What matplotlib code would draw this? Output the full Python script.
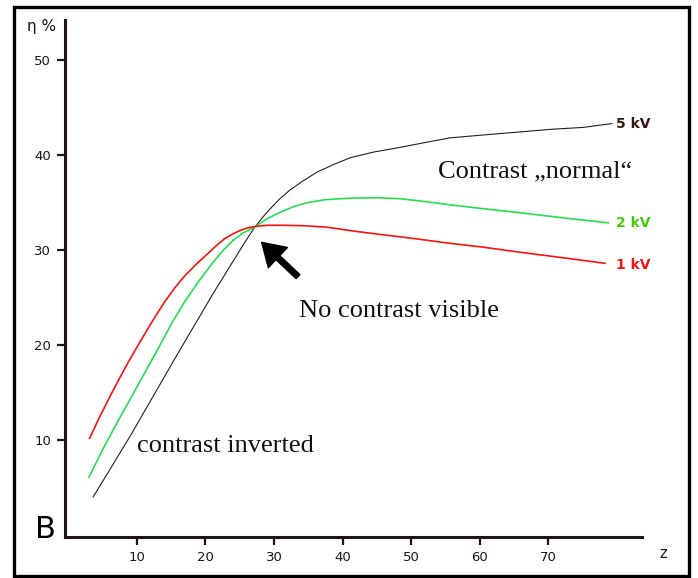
import matplotlib
matplotlib.use("Agg")
import matplotlib.pyplot as plt
from matplotlib.patches import Rectangle

# ---- data ----
z_5kv = [3.6, 9.0, 15.8, 21.1, 24.1, 26.0, 27.2, 28.3,
         29.4, 30.8, 32.3, 34.3, 36.3, 38.7, 41.1, 44.5, 48.4, 52.0, 55.7,
         60.5, 65.5, 70.5, 75.1, 79.3]
eta_5kv = [4.0, 10.4, 18.9, 25.4, 28.9, 31.1, 32.4, 33.4,
           34.3, 35.35, 36.3, 37.3, 38.2, 39.0, 39.7, 40.3, 40.8, 41.3, 41.8,
           42.1, 42.4, 42.7, 42.9, 43.3]

z_2kv = [3.0, 5.0, 7.0, 9.0, 11.0, 13.0, 15.0, 17.0, 19.0, 21.0, 22.5, 24.0,
         25.5, 27.2, 29.0, 31.0, 33.0, 35.0, 37.5, 41.0, 45.0, 48.4, 52.0,
         55.7, 60.5, 65.5, 72.0, 78.8]
eta_2kv = [6.1, 9.0, 11.7, 14.3, 16.9, 19.5, 22.2, 24.6, 26.7, 28.6, 29.9, 31.0,
           31.8, 32.4, 33.3, 34.0, 34.6, 35.0, 35.3, 35.45, 35.5, 35.4, 35.1,
           34.75, 34.35, 33.95, 33.4, 32.85]

z_1kv = [3.1, 4.6, 6.5, 8.5, 10.5, 12.5, 14.0, 15.5, 17.0, 18.5, 20.0, 21.5,
         22.8, 24.0, 25.2, 26.3, 27.5, 29.0, 31.3, 34.5, 37.7, 41.5, 45.9,
         50.5, 55.7, 60.5, 65.5, 72.0, 78.3]
eta_1kv = [10.2, 12.5, 15.2, 17.9, 20.4, 22.8, 24.5, 26.0, 27.3, 28.4, 29.4, 30.4,
           31.2, 31.7, 32.1, 32.35, 32.5, 32.6, 32.6, 32.55, 32.4, 32.0, 31.6,
           31.2, 30.7, 30.3, 29.8, 29.2, 28.6]

x_ticks = [10, 20, 30, 40, 50, 60, 70]
y_ticks = [10, 20, 30, 40, 50]
series_labels = ["5 kV", "2 kV", "1 kV"]

# ---- figure ----
W, H = 698, 578
fig = plt.figure(figsize=(W / 100, H / 100), dpi=100)
fig.patch.set_facecolor("white")

ax = fig.add_axes([65 / W, 1 - 537 / H, (642 - 65) / W, (537 - 20) / H])
ax.set_facecolor("white")
ax.set_xlim(-0.5, 83.7)
ax.set_ylim(-0.2, 54.2)

spine_col = "#201414"
for s in ["top", "right"]:
    ax.spines[s].set_visible(False)
for s in ["left", "bottom"]:
    ax.spines[s].set_linewidth(2.2)
    ax.spines[s].set_color(spine_col)

ax.set_xticks(x_ticks)
ax.set_yticks(y_ticks)
ax.tick_params(axis="both", direction="out", length=6, width=1.6, color=spine_col,
               labelsize=9.5, labelcolor="#201414", pad=4)
ax.tick_params(axis="x", pad=4)

ax.plot(z_5kv, eta_5kv, color="#202020", lw=0.8, solid_joinstyle="round")
ax.plot(z_2kv, eta_2kv, color="#22e050", lw=1.2, solid_joinstyle="round")
ax.plot(z_1kv, eta_1kv, color="#ff1010", lw=1.2, solid_joinstyle="round")

lab_kw = dict(fontsize=10, fontweight="bold", va="center", ha="left",
              family="DejaVu Sans")
ax.text(z_5kv[-1] + 0.6, eta_5kv[-1], series_labels[0], color="#3a1410", **lab_kw)
ax.text(z_2kv[-1] + 1.1, eta_2kv[-1], series_labels[1], color="#44cc00", **lab_kw)
ax.text(z_1kv[-1] + 1.6, eta_1kv[-1] - 0.2, series_labels[2], color="#ff1010", **lab_kw)

serif = dict(family="Liberation Serif", fontsize=19, color="#111111", va="baseline",
             ha="left")
ax.text(54.0, 37.6, "Contrast \u201enormal\u201c", **serif)
ax.text(33.6, 22.9, "No contrast visible", **serif)
ax.text(10.0, 8.7, "contrast inverted", **serif)

ax.annotate("", xy=(28.2, 30.8), xytext=(33.5, 27.2),
            arrowprops=dict(width=4.0, headwidth=20, headlength=16,
                            facecolor="black", edgecolor="black", shrink=0.0))

# axis labels and panel letter
fig.text(27 / W, 1 - 26 / H, "\u03b7 %", fontsize=11, color="#201414",
         ha="left", va="center")
fig.text(663 / W, 1 - 553 / H, "z", fontsize=10.5, color="#201414",
         ha="center", va="center")
fig.text(35 / W, 1 - 538 / H, "B", fontsize=22, color="black",
         ha="left", va="baseline")

# outer frame
fig.add_artist(Rectangle((14 / W, 1 - 576 / H), (689 - 14) / W, (576 - 7) / H,
                         transform=fig.transFigure, fill=False,
                         edgecolor="black", linewidth=2.4))

fig.savefig("out.png", dpi=100)
